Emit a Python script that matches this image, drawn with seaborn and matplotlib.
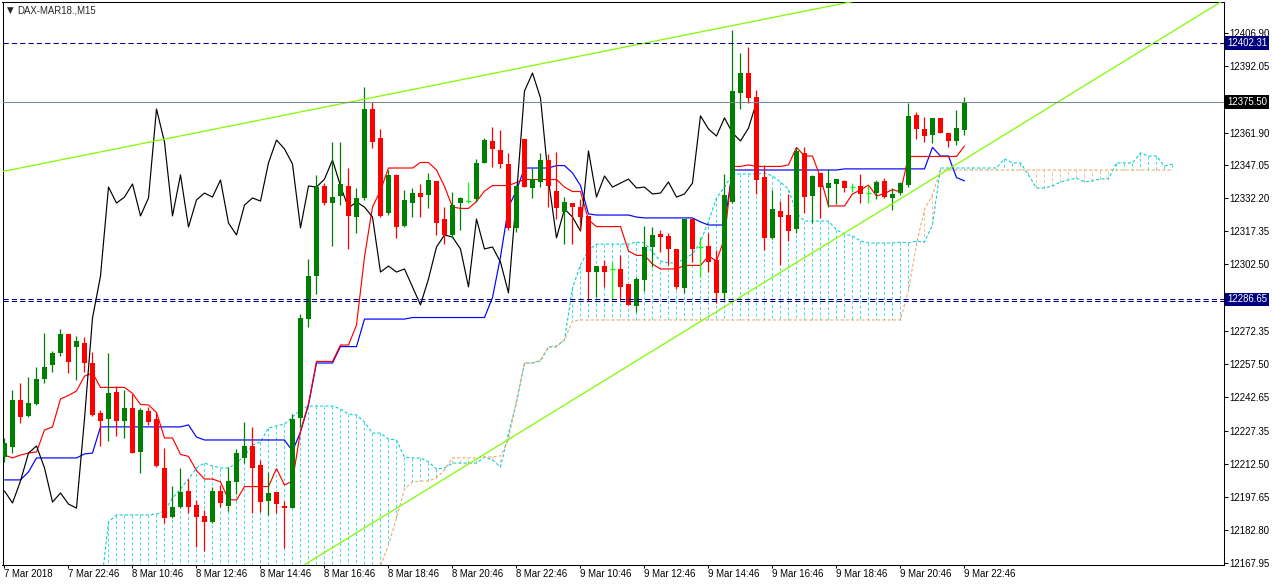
import numpy as np
import pandas as pd
import matplotlib
matplotlib.use("Agg")
import matplotlib.pyplot as plt
import seaborn as sns

# DAX-MAR18, M15 candles
opens = [
    12215.6, 12220.1, 12241.3, 12234.1, 12239.5, 12250.8, 12257.1, 12262.5, 12271.1, 12265.2,
    12267.0, 12258.0, 12235.5, 12232.8, 12244.9, 12231.9, 12237.7, 12217.9, 12236.4, 12232.8,
    12210.7, 12188.6, 12193.1, 12200.3, 12194.0, 12189.0, 12186.3, 12200.3, 12193.5, 12204.4,
    12215.2, 12220.6, 12212.0, 12195.8, 12199.9, 12193.5, 12192.6, 12233.2, 12277.8, 12297.2,
    12337.8, 12330.1, 12333.3, 12337.8, 12323.8, 12332.4, 12372.5, 12359.4, 12325.6, 12342.8,
    12319.8, 12330.1, 12334.6, 12333.7, 12340.1, 12322.9, 12315.7, 12330.1, 12331.0, 12331.9,
    12348.2, 12358.1, 12354.0, 12347.7, 12318.9, 12359.0, 12336.9, 12339.6, 12349.5, 12335.5,
    12326.1, 12330.1, 12328.3, 12324.3, 12299.0, 12301.7, 12300.4, 12300.4, 12293.6, 12283.7,
    12295.4, 12310.3, 12316.2, 12315.3, 12309.4, 12291.8, 12322.9, 12310.3, 12310.7, 12304.4,
    12289.6, 12330.6, 12379.7, 12388.7, 12377.9, 12341.9, 12314.4, 12326.5, 12324.7, 12318.4,
    12352.7, 12333.3, 12343.7, 12336.9, 12338.7, 12340.1, 12337.3, 12337.8, 12334.6, 12334.6,
    12340.1, 12332.4, 12334.6, 12338.2, 12369.8, 12363.5, 12360.8, 12368.5, 12361.7, 12358.1,
    12363.0,
]
highs = [
    12224.2, 12245.8, 12249.0, 12251.7, 12256.2, 12271.5, 12263.4, 12273.3, 12271.1, 12270.2,
    12269.7, 12263.0, 12236.8, 12262.5, 12247.6, 12245.8, 12244.0, 12237.7, 12238.2, 12235.5,
    12219.7, 12202.6, 12210.7, 12205.7, 12196.2, 12191.7, 12202.1, 12203.0, 12211.1, 12219.2,
    12231.4, 12229.2, 12214.3, 12208.9, 12199.9, 12195.8, 12235.0, 12280.1, 12304.9, 12342.8,
    12339.1, 12357.6, 12357.6, 12345.9, 12336.9, 12382.4, 12375.7, 12363.5, 12345.0, 12343.2,
    12336.0, 12336.9, 12338.7, 12343.7, 12340.1, 12328.3, 12335.1, 12332.8, 12339.6, 12350.0,
    12359.4, 12364.4, 12363.0, 12352.7, 12338.2, 12359.0, 12345.9, 12352.7, 12352.2, 12353.1,
    12332.8, 12330.1, 12331.9, 12324.3, 12301.7, 12304.4, 12303.5, 12306.7, 12293.6, 12296.8,
    12319.8, 12319.3, 12318.0, 12316.6, 12309.4, 12322.9, 12322.9, 12314.8, 12316.6, 12308.9,
    12343.2, 12408.1, 12397.8, 12400.5, 12381.1, 12347.3, 12336.0, 12331.0, 12334.2, 12355.4,
    12355.4, 12342.8, 12343.7, 12345.5, 12340.9, 12340.5, 12339.1, 12343.2, 12338.2, 12340.5,
    12341.4, 12336.9, 12339.6, 12375.2, 12371.2, 12368.9, 12368.5, 12368.5, 12361.7, 12372.1,
    12377.9,
]
lows = [
    12213.4, 12217.4, 12231.0, 12233.7, 12239.1, 12249.0, 12253.9, 12261.2, 12253.5, 12250.3,
    12253.9, 12234.1, 12220.6, 12222.8, 12225.1, 12224.2, 12217.4, 12208.4, 12230.1, 12211.1,
    12185.9, 12188.1, 12192.6, 12190.4, 12175.1, 12173.3, 12185.9, 12193.1, 12191.3, 12198.9,
    12212.9, 12190.4, 12190.8, 12189.5, 12190.4, 12174.6, 12192.6, 12229.2, 12274.2, 12289.1,
    12329.2, 12310.7, 12329.2, 12309.4, 12316.6, 12331.5, 12354.9, 12323.8, 12324.7, 12314.4,
    12319.3, 12323.8, 12323.8, 12327.9, 12315.7, 12311.6, 12314.4, 12318.0, 12330.1, 12330.6,
    12348.2, 12346.4, 12345.9, 12318.0, 12317.1, 12337.3, 12332.4, 12337.3, 12328.3, 12322.9,
    12311.6, 12311.6, 12318.0, 12286.0, 12287.8, 12292.3, 12286.4, 12286.4, 12284.2, 12281.0,
    12290.5, 12301.3, 12308.0, 12302.2, 12291.4, 12289.6, 12303.5, 12296.8, 12299.0, 12285.1,
    12286.4, 12330.1, 12372.5, 12375.2, 12334.2, 12308.9, 12313.9, 12302.2, 12313.0, 12316.6,
    12325.6, 12321.1, 12323.4, 12328.3, 12329.7, 12335.1, 12335.1, 12330.1, 12330.1, 12331.9,
    12332.4, 12327.0, 12333.7, 12337.3, 12359.0, 12357.6, 12357.2, 12361.7, 12355.4, 12356.3,
    12360.8,
]
closes = [
    12221.9, 12241.3, 12233.7, 12240.0, 12250.8, 12256.2, 12262.5, 12271.1, 12258.5, 12267.9,
    12258.0, 12234.6, 12231.9, 12244.5, 12231.9, 12237.7, 12217.4, 12236.8, 12231.4, 12211.6,
    12188.1, 12193.1, 12199.9, 12193.1, 12188.6, 12186.3, 12200.3, 12194.9, 12204.8, 12217.4,
    12220.6, 12210.7, 12195.3, 12199.4, 12194.4, 12192.6, 12232.8, 12278.3, 12297.2, 12337.3,
    12330.1, 12332.8, 12338.7, 12324.3, 12332.4, 12372.5, 12357.6, 12324.3, 12342.8, 12319.3,
    12331.5, 12334.6, 12332.8, 12340.5, 12321.1, 12315.7, 12329.2, 12332.4, 12331.0, 12348.2,
    12358.5, 12354.5, 12347.7, 12318.9, 12337.8, 12337.3, 12340.9, 12349.5, 12337.8, 12327.9,
    12330.6, 12328.3, 12323.8, 12299.0, 12301.7, 12299.0, 12300.4, 12292.3, 12284.2, 12295.9,
    12310.3, 12315.7, 12314.8, 12309.4, 12292.3, 12322.9, 12309.4, 12310.3, 12303.5, 12289.6,
    12333.7, 12380.6, 12388.7, 12377.5, 12340.5, 12314.4, 12327.4, 12323.8, 12317.5, 12353.6,
    12332.8, 12342.3, 12337.3, 12339.1, 12340.9, 12336.9, 12337.3, 12334.2, 12334.6, 12339.6,
    12332.8, 12334.2, 12339.1, 12369.4, 12363.5, 12360.3, 12368.5, 12361.7, 12358.1, 12363.9,
    12375.5,
]

# Ichimoku lines as drawn on the chart
tenkan = [
    12216.5, 12215.2, 12216.5, 12217.4, 12217.9, 12227.8, 12229.2, 12241.8, 12243.4, 12245.4,
    12252.1, 12253.5, 12247.0, 12247.0, 12247.0, 12247.0, 12244.3, 12239.3, 12239.1, 12235.7,
    12224.2, 12224.2, 12216.8, 12215.9, 12209.5, 12205.7, 12205.7, 12204.4, 12196.5, 12196.2,
    12202.3, 12202.3, 12202.3, 12202.3, 12210.4, 12203.0, 12204.8, 12227.3, 12239.7, 12258.7,
    12258.7, 12258.7, 12266.1, 12266.1, 12275.1, 12305.8, 12328.3, 12335.8, 12345.9, 12345.9,
    12345.9, 12345.9, 12348.4, 12348.4, 12345.0, 12337.6, 12328.3, 12327.7, 12327.7, 12330.8,
    12335.5, 12338.0, 12338.0, 12338.0, 12339.4, 12340.7, 12340.7, 12340.7, 12340.7, 12340.7,
    12337.3, 12335.3, 12335.3, 12322.5, 12319.5, 12319.5, 12319.5, 12319.5, 12308.5, 12306.5,
    12306.5, 12302.6, 12300.4, 12300.4, 12300.4, 12302.0, 12302.0, 12302.0, 12306.2, 12304.0,
    12314.1, 12346.6, 12346.6, 12347.3, 12346.6, 12346.6, 12346.6, 12346.6, 12347.3, 12355.2,
    12351.3, 12351.3, 12341.6, 12328.8, 12328.8, 12328.8, 12334.2, 12336.0, 12338.2, 12333.3,
    12334.4, 12336.2, 12335.1, 12351.1, 12351.1, 12351.1, 12351.1, 12351.1, 12351.1, 12351.1,
    12355.8,
]
kijun = [
    12205.3, 12205.3, 12205.3, 12208.9, 12215.2, 12215.2, 12215.2, 12215.2, 12215.2, 12215.2,
    12217.0, 12217.4, 12229.2, 12229.2, 12229.2, 12229.2, 12229.2, 12229.2, 12229.2, 12229.2,
    12229.2, 12229.2, 12229.2, 12230.1, 12224.6, 12223.3, 12223.3, 12223.3, 12223.3, 12223.3,
    12223.3, 12223.3, 12223.3, 12223.3, 12223.3, 12223.3, 12218.3, 12226.9, 12239.1, 12258.0,
    12258.0, 12258.0, 12265.4, 12265.4, 12265.4, 12277.8, 12277.8, 12277.8, 12277.8, 12277.8,
    12277.8, 12278.5, 12278.5, 12278.5, 12278.5, 12278.5, 12278.5, 12278.5, 12278.5, 12278.5,
    12278.5, 12287.5, 12305.8, 12328.3, 12335.8, 12345.9, 12345.9, 12345.9, 12345.9, 12347.0,
    12347.0, 12343.7, 12338.0, 12325.2, 12324.7, 12324.7, 12324.7, 12324.7, 12324.7, 12323.8,
    12323.4, 12323.4, 12323.4, 12323.4, 12323.4, 12323.4, 12323.4, 12321.6, 12320.2, 12320.2,
    12320.2, 12345.0, 12345.0, 12345.0, 12345.0, 12345.0, 12345.0, 12345.0, 12345.0, 12345.0,
    12345.0, 12345.0, 12345.0, 12345.0, 12345.0, 12345.5, 12345.5, 12345.5, 12345.5, 12345.5,
    12345.5, 12345.5, 12345.5, 12345.5, 12345.5, 12345.5, 12355.2, 12351.3, 12351.3, 12341.6,
    12340.1,
]
nan = float("nan")
senkou_a = [
    nan, nan, nan, nan, nan, nan, nan, nan, nan, nan,
    nan, nan, 12154.8, 12186.3, 12189.5, 12189.5, 12189.5, 12189.5, 12189.5, 12189.9,
    12191.3, 12197.1, 12201.2, 12205.7, 12210.7, 12212.9, 12211.6, 12210.7, 12210.7, 12212.9,
    12216.1, 12221.0, 12222.4, 12228.7, 12229.6, 12230.5, 12233.7, 12236.8, 12238.6, 12238.6,
    12238.6, 12238.6, 12237.3, 12235.0, 12234.6, 12231.4, 12226.4, 12226.4, 12223.7, 12223.3,
    12215.6, 12215.2, 12215.2, 12213.4, 12210.2, 12210.7, 12212.9, 12212.9, 12212.9, 12212.9,
    12215.6, 12214.3, 12211.1, 12226.4, 12240.0, 12258.0, 12258.0, 12258.9, 12265.2, 12265.7,
    12268.4, 12291.8, 12302.2, 12308.9, 12311.6, 12311.6, 12311.6, 12311.6, 12311.6, 12312.5,
    12312.1, 12308.0, 12304.0, 12303.1, 12303.1, 12304.9, 12307.1, 12312.5, 12322.0, 12332.4,
    12337.3, 12343.2, 12343.2, 12343.2, 12343.2, 12343.7, 12342.3, 12339.6, 12336.4, 12325.6,
    12322.0, 12322.0, 12322.0, 12322.0, 12318.0, 12316.2, 12315.3, 12313.0, 12312.1, 12312.1,
    12312.1, 12312.1, 12312.5, 12312.1, 12313.0, 12312.5, 12320.2, 12345.9, 12345.9, 12345.9,
    12345.9, 12345.9, 12345.9, 12345.9, 12345.9, 12350.0, 12348.2, 12348.2, 12342.8, 12336.9,
    12336.9, 12337.8, 12339.6, 12340.5, 12341.4, 12339.6, 12340.1, 12341.0, 12341.0, 12348.2,
    12348.2, 12348.2, 12352.7, 12351.3, 12351.3, 12346.8, 12347.7,
]
senkou_b = [
    nan, nan, nan, nan, nan, nan, nan, nan, nan, nan,
    nan, nan, nan, nan, nan, nan, nan, nan, nan, nan,
    nan, nan, nan, nan, nan, nan, nan, nan, nan, nan,
    nan, nan, nan, nan, nan, nan, nan, nan, nan, nan,
    nan, nan, nan, nan, nan, nan, 12146.7, 12166.5, 12176.0, 12188.1,
    12201.2, 12204.4, 12204.8, 12204.8, 12206.2, 12209.8, 12215.2, 12215.2, 12215.2, 12215.2,
    12215.6, 12215.6, 12216.1, 12223.3, 12241.3, 12258.0, 12258.0, 12259.4, 12265.2, 12265.2,
    12268.4, 12276.9, 12277.4, 12277.4, 12277.4, 12277.4, 12277.4, 12277.4, 12277.4, 12277.4,
    12277.4, 12277.4, 12277.4, 12277.4, 12277.4, 12277.4, 12277.4, 12277.4, 12277.4, 12277.4,
    12277.4, 12277.4, 12277.4, 12277.4, 12277.4, 12277.4, 12277.4, 12277.4, 12277.4, 12277.4,
    12277.4, 12277.4, 12277.4, 12277.4, 12277.4, 12277.4, 12277.4, 12277.4, 12277.4, 12277.4,
    12277.4, 12277.4, 12277.4, 12290.9, 12311.6, 12327.4, 12333.7, 12345.0, 12345.0, 12345.0,
    12345.0, 12345.0, 12345.0, 12345.0, 12345.0, 12345.0, 12345.0, 12345.0, 12345.0, 12345.0,
    12345.0, 12345.0, 12345.0, 12345.0, 12345.0, 12345.0, 12345.0, 12345.0, 12345.0, 12345.0,
    12345.0, 12345.0, 12345.0, 12345.0, 12345.0, 12345.0, 12345.0,
]
CHIKOU_SHIFT = 26

# drawn objects: trend lines as (bar index, price) pairs, horizontal levels
trend_upper = [(0, 12344.5), (100, 12416.6)]
trend_lower = [(47, 12188.1), (120, 12349.8)]
level_top = 12402.31
level_last = 12375.50
level_support = [12286.65, 12285.8]

time_labels = ["7 Mar 2018", "7 Mar 22:46", "8 Mar 10:46", "8 Mar 12:46", "8 Mar 14:46",
               "8 Mar 16:46", "8 Mar 18:46", "8 Mar 20:46", "8 Mar 22:46", "9 Mar 10:46",
               "9 Mar 12:46", "9 Mar 14:46", "9 Mar 16:46", "9 Mar 18:46", "9 Mar 20:46",
               "9 Mar 22:46"]
price_ticks = [12406.90, 12392.05, 12361.90, 12347.05, 12332.20, 12317.35, 12302.50,
               12272.35, 12257.50, 12242.65, 12227.35, 12212.50, 12197.65, 12182.80, 12167.95]

BULL, BEAR, DOJI = "#008000", "#ff0000", "#00ff00"
CYAN, SANDY = "#00ced1", "#f4a460"
NAVY = "#000080"
LW = 0.75
HATCH_LW = 0.55

sns.set_style("white")
plt.rcParams["font.family"] = ["Liberation Sans", "DejaVu Sans"]
plt.rcParams["font.size"] = 6.9

fig = plt.figure(figsize=(12.72, 5.85), dpi=100)
ax = fig.add_axes([2.5 / 1272, 20 / 585, 1221.5 / 1272, 563.5 / 585])
ax.set_xlim(-0.25, 152.44)
ax.set_ylim(12166.94, 12420.96)

# cloud hatch: thin vertical dashes between the two spans
span_x = np.arange(len(senkou_a))
a = np.array(senkou_a, dtype=float)
b = np.array(senkou_b, dtype=float)
ymin = ax.get_ylim()[0]
b_edge = np.where(np.isnan(b), ymin, b)
has_a = ~np.isnan(a)
hatch_col = np.where(a >= b_edge, CYAN, SANDY)
ax.vlines(span_x[has_a], a[has_a], b_edge[has_a], colors=hatch_col[has_a],
          linestyles=[(0, (4, 3))], lw=HATCH_LW, alpha=0.9, zorder=1)
ax.plot(span_x, a, color=CYAN, lw=LW, ls=(0, (3, 2)), zorder=2)
ax.plot(span_x, b, color=SANDY, lw=LW, ls=(0, (3, 2)), zorder=2)

# tenkan / kijun / chikou
idx = np.arange(len(closes))
ichi = pd.DataFrame({"bar": idx, "tenkan": tenkan, "kijun": kijun})
sns.lineplot(data=ichi, x="bar", y="kijun", color="#0000ff", lw=0.85, errorbar=None, ax=ax, zorder=3)
sns.lineplot(data=ichi, x="bar", y="tenkan", color="#ff0000", lw=0.85, errorbar=None, ax=ax, zorder=3)
lag = pd.DataFrame({"bar": idx[:-CHIKOU_SHIFT], "chikou": closes[CHIKOU_SHIFT:]})
sns.lineplot(data=lag, x="bar", y="chikou", color="black", lw=0.85, errorbar=None, ax=ax, zorder=3)

# candles
o, h, l, c = (np.array(v) for v in (opens, highs, lows, closes))
col = np.where(c > o, BULL, np.where(c < o, BEAR, DOJI))
ax.vlines(idx, l, h, colors=col, lw=0.9, zorder=4)
body = c != o
ax.bar(idx[body], np.abs(c - o)[body], bottom=np.minimum(o, c)[body], width=0.625,
       color=col[body], linewidth=0, zorder=4)
ax.hlines(c[~body], idx[~body] - 0.31, idx[~body] + 0.31, colors=DOJI, lw=0.9, zorder=4)

# chart objects
ax.axline(trend_upper[0], trend_upper[1], color="#7cfc00", lw=0.9, zorder=5)
ax.axline(trend_lower[0], trend_lower[1], color="#7cfc00", lw=0.9, zorder=5)
ax.axhline(level_top, color=NAVY, lw=LW, ls=(0, (5, 3)), zorder=5)
ax.axhline(level_last, color="#778899", lw=LW, zorder=5)
for lv in level_support:
    ax.axhline(lv, color=NAVY, lw=LW, ls=(0, (5, 3)), zorder=5)

# axes styling
ax.set_xlabel("")
ax.set_ylabel("")
for sp in ax.spines.values():
    sp.set_visible(True)
    sp.set_color("black")
    sp.set_linewidth(LW)
ax.yaxis.tick_right()
ax.set_yticks(price_ticks)
ax.set_yticklabels([f"{v:.2f}" for v in price_ticks])
ax.set_xticks(np.arange(0, len(closes), 8))
ax.set_xticklabels(time_labels)
for lab in ax.get_xticklabels():
    lab.set_ha("left")
ax.tick_params(axis="y", right=True, left=False, direction="out", length=2.9, width=LW,
               pad=0.8, labelsize=6.9, colors="black")
ax.tick_params(axis="x", bottom=True, direction="out", length=2.5, width=LW,
               pad=0.6, labelsize=6.9, colors="black")

# price boxes on the right scale
for val, bg in [(level_top, NAVY), (level_last, "black"), (level_support[0], NAVY)]:
    ax.annotate(f"{val:.2f}", xy=(1, val), xycoords=("axes fraction", "data"),
                xytext=(2.2, 0), textcoords="offset points", ha="left", va="center",
                color="white", fontsize=6.9, annotation_clip=False, zorder=10,
                bbox=dict(boxstyle="square,pad=0.2", fc=bg, ec="none"))

fig.text(6.5 / 1272, 1 - 10.5 / 585, "\u25bc", fontsize=6.2, va="center",
         family=["DejaVu Sans"])
fig.text(17 / 1272, 1 - 10.5 / 585, "DAX-MAR18.,M15", fontsize=6.9, va="center")

fig.savefig("out.png", dpi=100, facecolor="white")
